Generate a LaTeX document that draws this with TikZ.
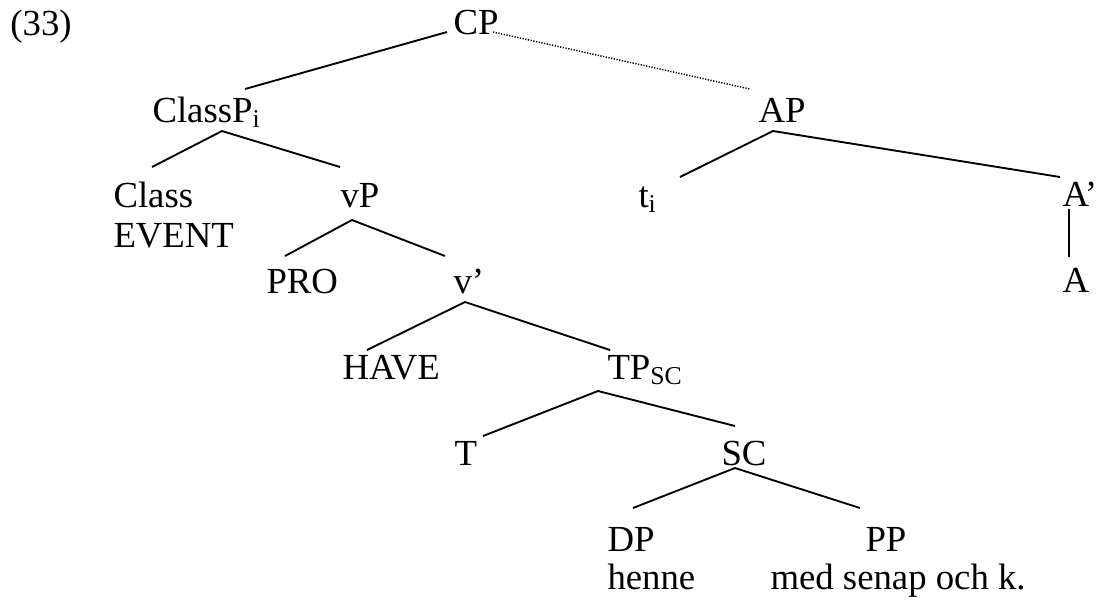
\documentclass[tikz,border=0pt]{standalone}
\usepackage{fontspec}
\setmainfont{Liberation Serif}
\begin{document}
\begin{tikzpicture}[x=0.4pt, y=-0.4pt,
  font=\fontsize{14.7}{17}\selectfont,
  lbl/.style={anchor=base west, inner sep=0pt},
  branch/.style={line width=0.75pt},
  trace/.style={line width=0.6pt, dash pattern=on 0.5pt off 0.6pt}]
\useasboundingbox (0,0) rectangle (1101,603);
%% ------------------------------------------------------------------ labels
% each label sits on its baseline
\node[lbl] (ex)     at (10,35)   {(33)};
\node[lbl] (cp)     at (453,34)  {CP};
\node[lbl] (classp) at (152,122) {ClassP\textsubscript{i}};
\node[lbl] (ap)     at (758,122) {AP};
\node[lbl] (class)  at (113,207) {Class};
\node[lbl] (event)  at (113,247) {EVENT};
\node[lbl] (vp)     at (340,207) {vP};
\node[lbl] (ti)     at (638,207) {t\textsubscript{i}};
\node[lbl] (abar)   at (1062,206) {A'};
\node[lbl] (pro)    at (266,293) {PRO};
\node[lbl] (vbar)   at (453,293) {v'};
\node[lbl] (a)      at (1062,292) {A};
\node[lbl] (have)   at (342,379) {HAVE};
\node[lbl] (tp)     at (607,379) {TP\textsubscript{SC}};
\node[lbl] (t)      at (454,465) {T};
\node[lbl] (sc)     at (721,465) {SC};
\node[lbl] (dp)     at (607,551) {DP};
\node[lbl] (pp)     at (865,551) {PP};
\node[lbl] (henne)  at (607,589) {henne};
\node[lbl] (med)    at (770,589) {med senap och k.};
%% ------------------------------------------------------------------ branches
\draw[branch] ([shift={(-6,-2)}]cp.base west) -- ([shift={(93,-33)}]classp.base west);
\draw[trace]  ([shift={(40,-2)}]cp.base west) -- ([shift={(-8,-33)}]ap.base west);
% ClassP
\draw[branch] ([shift={(39,-40)}]class.base west) -- ([shift={(70,9)}]classp.base west)
  -- ([shift={(0,-40)}]vp.base west);
% AP
\draw[branch] ([shift={(42,-30)}]ti.base west) -- ([shift={(15,9)}]ap.base west)
  -- ([shift={(-2,-29)}]abar.base west);
\draw[branch] ([shift={(7,3)}]abar.base west) -- ([shift={(7,-35)}]a.base west);
% vP
\draw[branch] ([shift={(19,-37)}]pro.base west) -- ([shift={(12,13)}]vp.base west)
  -- ([shift={(-8,-37)}]vbar.base west);
% v'
\draw[branch] ([shift={(25,-29)}]have.base west) -- ([shift={(12,9)}]vbar.base west)
  -- ([shift={(3,-29)}]tp.base west);
% TP
\draw[branch] ([shift={(29,-29)}]t.base west) -- ([shift={(-9,12)}]tp.base west)
  -- ([shift={(14,-39)}]sc.base west);
% SC
\draw[branch] ([shift={(26,-43)}]dp.base west) -- ([shift={(14,3)}]sc.base west)
  -- ([shift={(-5,-43)}]pp.base west);
\end{tikzpicture}
\end{document}
